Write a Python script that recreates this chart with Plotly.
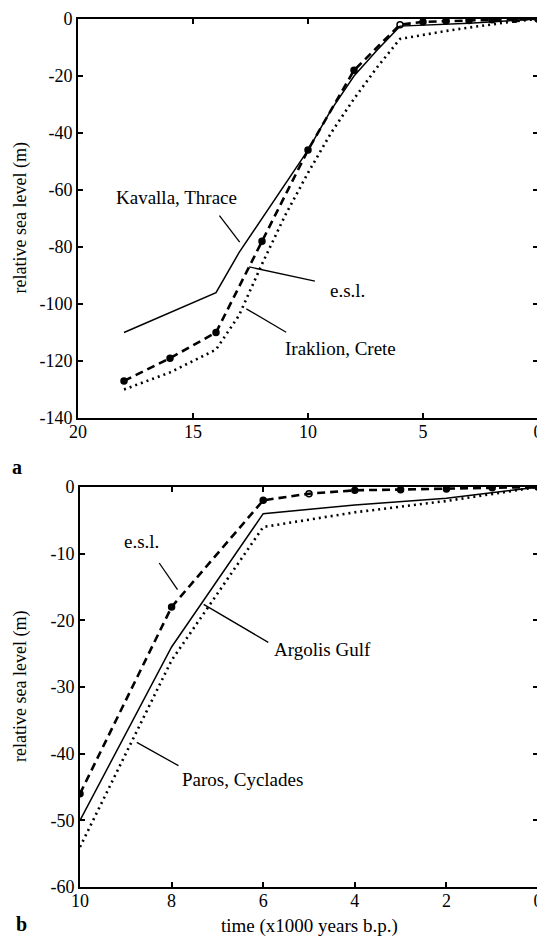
import plotly.graph_objects as go

# ---------------- Panel a data ----------------
time_esl_a = [18, 16, 14, 12, 10, 8, 6, 5, 4, 3, 2, 1, 0]
esl_a = [-127, -119, -110, -78, -46, -18, -2, -1, -0.7, -0.5, -0.3, -0.1, 0]

time_kavalla = [18, 14, 13, 12, 11, 10, 9, 8, 7, 6, 3, 0]
kavalla = [-110, -96, -82, -70, -58, -46, -32, -20, -11, -2.5, -1.5, 0]

time_iraklion = [18, 16, 14, 13, 12, 11, 10, 9, 8, 7, 6, 5, 4, 3, 2, 1, 0]
iraklion = [-130, -124, -116, -104, -86, -69, -54, -40, -28, -17, -7, -5.5, -4.2, -3, -1.8, -0.8, 0]

# ---------------- Panel b data ----------------
time_esl_b = [10, 8, 6, 5, 4, 3, 2, 1, 0]
esl_b = [-46, -18, -2, -1, -0.5, -0.4, -0.3, -0.1, 0]

time_argolis = [10, 8, 6, 4, 2, 1, 0]
argolis = [-50, -24, -4, -2.7, -1.7, -0.8, 0]

time_paros = [10, 8, 6, 4, 2, 1, 0]
paros = [-54, -26, -6, -3.8, -2.1, -1, 0]

# tick values and labels (hyphen minus as in the original)
xticks_a = [20, 15, 10, 5, 0]
yticks_a = [0, -20, -40, -60, -80, -100, -120, -140]
xticks_b = [10, 8, 6, 4, 2, 0]
yticks_b = [0, -10, -20, -30, -40, -50, -60]

def tick_text(vals):
    return [str(v) for v in vals]

# labels (text, x, y) in data coordinates and leader lines (x0, y0, x1, y1)
labels_a = [("Kavalla, Thrace", 15.7, -62.5), ("e.s.l.", 8.3, -95.2), ("Iraklion, Crete", 8.6, -115.7)]
leaders_a = [(13.85, -69, 12.97, -78.3), (12.56, -87, 9.7, -92), (12.68, -101.7, 10.95, -109.9)]
labels_b = [("e.s.l.", 8.65, -8.1), ("Argolis Gulf", 4.71, -24.3), ("Paros, Cyclades", 6.45, -43.8)]
leaders_b = [(8.27, -11.4, 7.87, -15.4), (7.30, -17.6, 5.89, -23.3), (8.76, -38.3, 7.85, -41.8)]

# the page body has an 8px margin, so the figure is a bit smaller and offset
OFF = 8
W, H = 545 - OFF, 939 - OFF
FONT = "Liberation Serif, Times New Roman, serif"

def px(x):
    return (x - OFF) / W

def py(y):
    return 1 - (y - OFF) / H

fig = go.Figure()

solid = dict(color="black", width=1.5)
dashed = dict(color="black", width=2.6, dash="8px,5px")
dotted = dict(color="black", width=2.6, dash="2px,4px")

sym_a = ["circle-open" if t == 6 else "circle" for t in time_esl_a]
sym_b = ["circle-open" if t == 5 else "circle" for t in time_esl_b]

fig.add_trace(go.Scatter(x=time_kavalla, y=kavalla, mode="lines", line=solid, xaxis="x", yaxis="y"))
fig.add_trace(go.Scatter(x=time_iraklion, y=iraklion, mode="lines", line=dotted, xaxis="x", yaxis="y"))
fig.add_trace(go.Scatter(x=time_esl_a, y=esl_a, mode="lines+markers", line=dashed,
                         marker=dict(size=6, color="black", symbol=sym_a, line=dict(width=1.5, color="black")),
                         xaxis="x", yaxis="y"))

fig.add_trace(go.Scatter(x=time_argolis, y=argolis, mode="lines", line=solid, xaxis="x2", yaxis="y2"))
fig.add_trace(go.Scatter(x=time_paros, y=paros, mode="lines", line=dotted, xaxis="x2", yaxis="y2"))
fig.add_trace(go.Scatter(x=time_esl_b, y=esl_b, mode="lines+markers", line=dashed,
                         marker=dict(size=6, color="black", symbol=sym_b, line=dict(width=1.5, color="black")),
                         xaxis="x2", yaxis="y2"))

axis_common = dict(
    showgrid=False, zeroline=False, showline=True, linecolor="black", linewidth=2,
    mirror="ticks", ticks="inside", ticklen=5, tickwidth=1.5, tickcolor="black",
    tickfont=dict(family=FONT, size=18, color="black"),
    automargin=False, ticklabeloverflow="allow",
)

fig.update_layout(
    template="none",
    width=W, height=H,
    margin=dict(l=0, r=0, t=0, b=0, autoexpand=False),
    paper_bgcolor="white", plot_bgcolor="white",
    showlegend=False,
    xaxis=dict(axis_common, domain=[px(78), px(538)], range=[20, 0], tickvals=xticks_a,
               ticktext=tick_text(xticks_a), anchor="y", ticklabelstandoff=-4),
    yaxis=dict(axis_common, domain=[py(418), py(19)], range=[-140, 0], tickvals=yticks_a,
               ticktext=tick_text(yticks_a), anchor="x"),
    xaxis2=dict(axis_common, domain=[px(80), px(538)], range=[10, 0], tickvals=xticks_b,
                ticktext=tick_text(xticks_b), anchor="y2", ticklabelstandoff=-4),
    yaxis2=dict(axis_common, domain=[py(887), py(487)], range=[-60, 0], tickvals=yticks_b,
                ticktext=tick_text(yticks_b), anchor="x2"),
)

annotations = []
shapes = []
lab_font = dict(family=FONT, size=19, color="black")
for text, x, y in labels_a:
    annotations.append(dict(text=text, x=x, y=y, xref="x", yref="y", showarrow=False,
                            xanchor="center", yanchor="middle", font=lab_font))
for x0, y0, x1, y1 in leaders_a:
    shapes.append(dict(type="line", x0=x0, y0=y0, x1=x1, y1=y1, xref="x", yref="y",
                       line=dict(color="black", width=1.3)))
for text, x, y in labels_b:
    annotations.append(dict(text=text, x=x, y=y, xref="x2", yref="y2", showarrow=False,
                            xanchor="center", yanchor="middle", font=lab_font))
for x0, y0, x1, y1 in leaders_b:
    shapes.append(dict(type="line", x0=x0, y0=y0, x1=x1, y1=y1, xref="x2", yref="y2",
                       line=dict(color="black", width=1.3)))

# axis titles and panel letters (page pixel positions)
paper_texts = [
    ("relative sea level (m)", 20, 218.5, -90, 18),
    ("relative sea level (m)", 20, 687, -90, 18),
    ("time (x1000 years b.p.)", 309, 926, 0, 19),
    ("<b>a</b>", 17, 467, 0, 20),
    ("<b>b</b>", 21, 924, 0, 20),
]
for text, x, y, ang, size in paper_texts:
    annotations.append(dict(text=text, x=px(x), y=py(y), xref="paper", yref="paper",
                            xanchor="center", yanchor="middle", textangle=ang, showarrow=False,
                            font=dict(family=FONT, size=size, color="black")))

fig.update_layout(annotations=annotations, shapes=shapes)
fig.write_html("out.html")
